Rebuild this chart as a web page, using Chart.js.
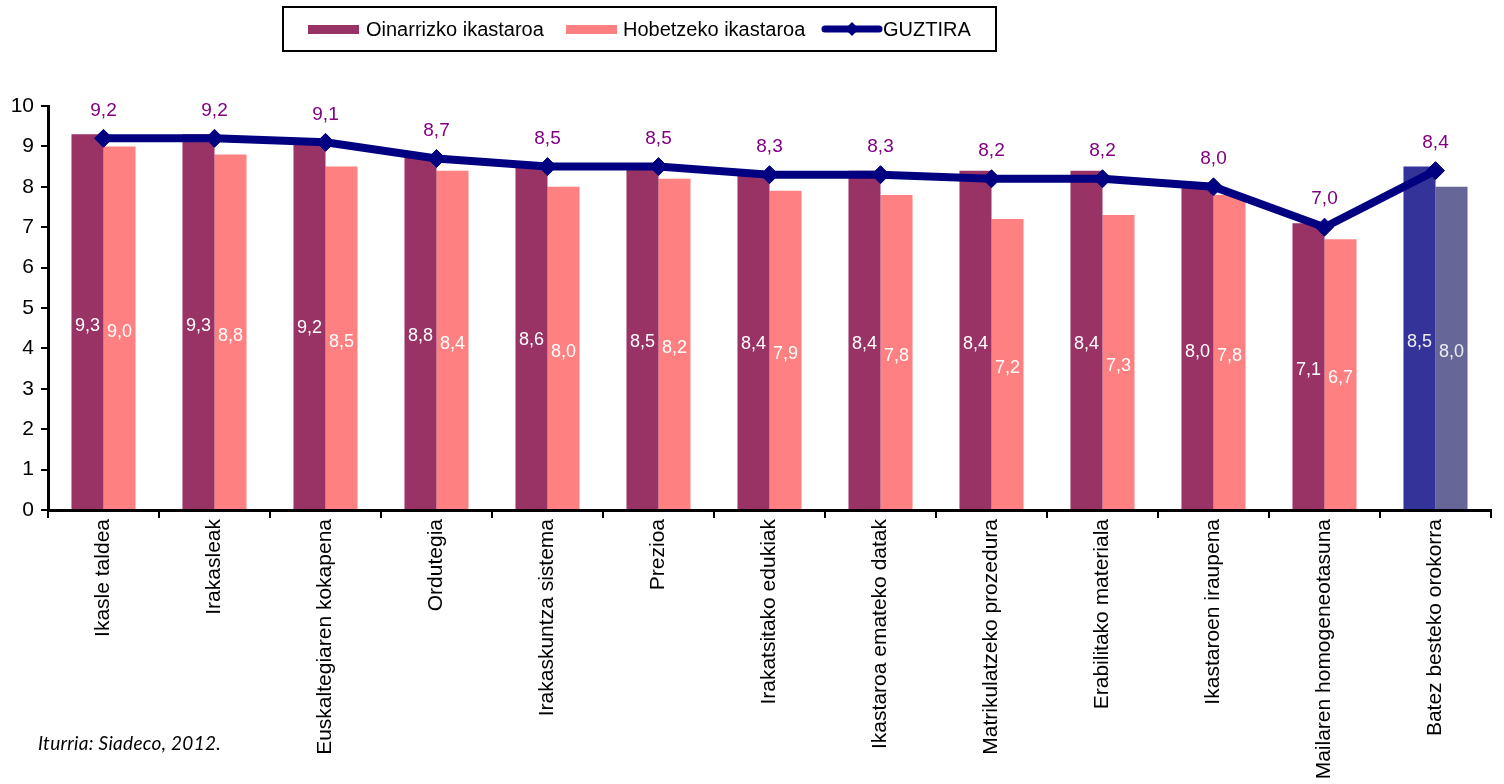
<!DOCTYPE html>
<html>
<head>
<meta charset="utf-8">
<script src="https://cdn.jsdelivr.net/npm/chart.js@4.4.1/dist/chart.umd.min.js"></script>
<style>
  html, body { margin: 0; padding: 0; background: #fff; }
  #wrap { position: relative; width: 1504px; height: 784px; }
  #note { position: absolute; left: 38px; top: 731px; font-family: 'Lato', 'Open Sans', sans-serif; font-style: italic; font-size: 19px; color: #000; letter-spacing: 0.3px; }
</style>
</head>
<body>
<div id="wrap">
  <canvas id="c" width="1504" height="784"></canvas>
  <div id="note">Iturria: Siadeco, 2012.</div>
</div>
<script>
const categories = [
  "Ikasle taldea", "Irakasleak", "Euskaltegiaren kokapena", "Ordutegia",
  "Irakaskuntza sistema", "Prezioa", "Irakatsitako edukiak", "Ikastaroa emateko datak",
  "Matrikulatzeko prozedura", "Erabilitako materiala", "Ikastaroen iraupena",
  "Mailaren homogeneotasuna", "Batez besteko orokorra"
];
const oinarrizko = [9.3, 9.3, 9.2, 8.8, 8.6, 8.5, 8.4, 8.4, 8.4, 8.4, 8.0, 7.1, 8.5];
const hobetzeko  = [9.0, 8.8, 8.5, 8.4, 8.0, 8.2, 7.9, 7.8, 7.2, 7.3, 7.8, 6.7, 8.0];
const guztira    = [9.2, 9.2, 9.1, 8.7, 8.5, 8.5, 8.3, 8.3, 8.2, 8.2, 8.0, 7.0, 8.4];
const seriesNames = ["Oinarrizko ikastaroa", "Hobetzeko ikastaroa", "GUZTIRA"];
const yTicks = [0, 1, 2, 3, 4, 5, 6, 7, 8, 9, 10];

const FONT = "'Liberation Sans', Arial, sans-serif";
const C1 = '#993366', C2 = '#FF8080', C1last = '#333399', C2last = '#666699', CL = '#000080';

const colorsFor = (base, last) => categories.map((_, i) => i === categories.length - 1 ? last : base);
const fmt = v => v.toFixed(1).replace('.', ',');

const labelsPlugin = {
  id: 'valueLabels',
  afterDatasetsDraw(chart) {
    const ctx = chart.ctx;
    ctx.save();
    ctx.textAlign = 'center';
    ctx.textBaseline = 'middle';
    chart.data.datasets.forEach((ds, di) => {
      const meta = chart.getDatasetMeta(di);
      meta.data.forEach((el, i) => {
        const v = ds.data[i];
        if (ds.type === 'line') {
          ctx.font = '19px ' + FONT;
          ctx.fillStyle = '#800080';
          ctx.fillText(fmt(v), el.x, el.y - 28);
        } else {
          ctx.font = '18px ' + FONT;
          ctx.fillStyle = i === categories.length - 1 ? '#EEEEEE' : '#FFFFFF';
          ctx.fillText(fmt(v), el.x, (el.y + el.base) / 2 + 4);
        }
      });
    });
    ctx.restore();
  }
};

const legendPlugin = {
  id: 'boxLegend',
  afterDraw(chart) {
    const ctx = chart.ctx;
    ctx.save();
    ctx.strokeStyle = '#000';
    ctx.lineWidth = 2;
    ctx.strokeRect(283, 7, 713, 44);
    const cy = 29;
    ctx.font = '20px ' + FONT;
    ctx.textBaseline = 'middle';
    ctx.textAlign = 'left';
    ctx.fillStyle = C1;
    ctx.fillRect(308, cy - 4, 51, 9);
    ctx.fillStyle = '#000';
    ctx.fillText(seriesNames[0], 366, cy + 1);
    ctx.fillStyle = C2;
    ctx.fillRect(566, cy - 4, 51, 9);
    ctx.fillStyle = '#000';
    ctx.fillText(seriesNames[1], 623, cy + 1);
    ctx.strokeStyle = CL;
    ctx.lineWidth = 7;
    ctx.lineCap = 'round';
    ctx.beginPath();
    ctx.moveTo(825, cy);
    ctx.lineTo(879, cy);
    ctx.stroke();
    ctx.fillStyle = CL;
    ctx.beginPath();
    ctx.moveTo(852, cy - 7); ctx.lineTo(859, cy); ctx.lineTo(852, cy + 7); ctx.lineTo(845, cy);
    ctx.closePath(); ctx.fill();
    ctx.fillStyle = '#000';
    ctx.fillText(seriesNames[2], 883, cy + 1);
    ctx.restore();
  }
};

new Chart(document.getElementById('c'), {
  type: 'bar',
  data: {
    labels: categories,
    datasets: [
      {
        type: 'line', label: seriesNames[2], data: guztira, order: 0,
        borderColor: CL, backgroundColor: CL, borderWidth: 8,
        pointStyle: 'rectRot', pointRadius: 9, pointBackgroundColor: CL, pointBorderColor: CL,
        pointBorderWidth: 1, tension: 0, fill: false
      },
      {
        label: seriesNames[0], data: oinarrizko, order: 1,
        backgroundColor: colorsFor(C1, C1last), borderWidth: 0,
        categoryPercentage: 0.577, barPercentage: 1.0
      },
      {
        label: seriesNames[1], data: hobetzeko, order: 2,
        backgroundColor: colorsFor(C2, C2last), borderWidth: 0,
        categoryPercentage: 0.577, barPercentage: 1.0
      }
    ]
  },
  options: {
    responsive: false,
    animation: false,
    devicePixelRatio: 1,
    layout: { padding: { top: 106, right: 13, left: 0, bottom: 0 } },
    plugins: { legend: { display: false }, tooltip: { enabled: false } },
    scales: {
      x: {
        offset: true,
        afterFit: s => { s.height = 274; },
        border: { display: true, color: '#000', width: 3 },
        grid: { offset: true, drawOnChartArea: false, drawTicks: true, tickLength: 8, color: '#000', lineWidth: 2 },
        ticks: { color: '#000', font: { family: FONT, size: 21 }, minRotation: 90, maxRotation: 90, autoSkip: false, padding: 1 }
      },
      y: {
        min: 0, max: 10,
        afterFit: s => { s.width = 48; },
        afterBuildTicks: s => { s.ticks = yTicks.map(v => ({ value: v })); },
        border: { display: true, color: '#000', width: 3 },
        grid: { drawOnChartArea: false, drawTicks: true, tickLength: 7, color: '#000', lineWidth: 2 },
        ticks: { color: '#000', font: { family: FONT, size: 21 }, padding: 7, stepSize: 1 }
      }
    }
  },
  plugins: [labelsPlugin, legendPlugin]
});
</script>
</body>
</html>
